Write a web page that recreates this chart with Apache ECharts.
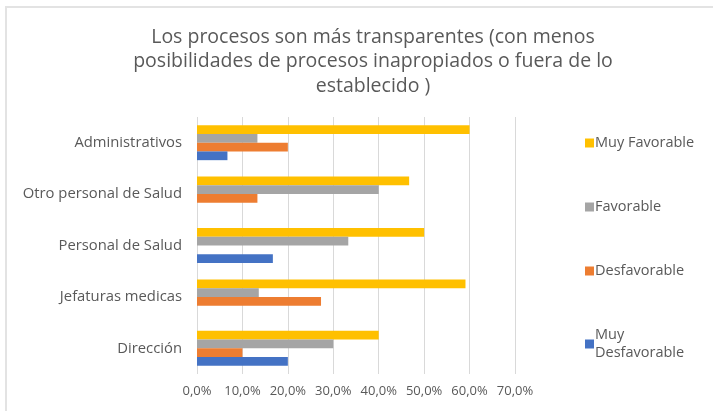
<!DOCTYPE html>
<html><head><meta charset="utf-8">
<script src="https://cdn.jsdelivr.net/npm/echarts@6/dist/echarts.min.js"></script>
<style>html,body{margin:0;padding:0;background:#fff}#c{width:713px;height:411px}</style>
</head><body><div id="c"></div>
<script>
const categories = ['Dirección', 'Jefaturas medicas', 'Personal de Salud', 'Otro personal de Salud', 'Administrativos'];
const muyFavorable = [40.0, 59.1, 50.0, 46.7, 60.0];
const favorable = [30.0, 13.6, 33.3, 40.0, 13.3];
const desfavorable = [10.0, 27.3, 0, 13.3, 20.0];
const muyDesfavorable = [20.0, 0, 16.7, 0, 6.7];
const xTicks = [0, 10, 20, 30, 40, 50, 60, 70];

const chart = echarts.init(document.getElementById('c'));
const font = 'Open Sans';
const fmt = v => v.toFixed(1).replace('.', ',') + '%';
chart.setOption({
  animation: false,
  textStyle: { fontFamily: font },
  graphic: [{ type: 'rect', shape: { x: 6, y: 7, width: 720, height: 420 }, style: { fill: 'none', stroke: '#e3e3e3', lineWidth: 2 } }],
  title: {
    text: 'Los procesos son más transparentes (con menos\nposibilidades de procesos inapropiados o fuera de lo\nestablecido )',
    left: 368, textAlign: 'center', top: 20,
    textStyle: { fontFamily: font, fontSize: 19.5, fontWeight: 'normal', color: '#595959', lineHeight: 24.5 }
  },
  legend: {
    orient: 'vertical', left: 580, top: 129, itemWidth: 9, itemHeight: 9, itemGap: 46,
    icon: 'rect',
    data: ['Muy Favorable', 'Favorable', 'Desfavorable', 'Muy\nDesfavorable'],
    textStyle: { fontFamily: font, fontSize: 14.5, color: '#595959', padding: [0, 0, 0, -4], lineHeight: 18 }
  },
  grid: { left: 197, top: 117, width: 318, height: 257, containLabel: false },
  xAxis: {
    type: 'value', min: 0, max: 70, interval: 10,
    axisLine: { show: false }, axisTick: { show: false },
    splitLine: { lineStyle: { color: '#d9d9d9', width: 1 } },
    axisLabel: { formatter: v => fmt(v), color: '#595959', fontSize: 13, fontFamily: font, margin: 11 }
  },
  yAxis: {
    type: 'category', data: categories,
    axisLine: { show: false }, axisTick: { show: false },
    axisLabel: { color: '#595959', fontSize: 14.8, fontFamily: font, margin: 15 }
  },
  series: [
    { name: 'Muy Favorable', type: 'bar', data: muyFavorable, itemStyle: { color: '#FFC000' }, barGap: '0%', barCategoryGap: '32%' },
    { name: 'Favorable', type: 'bar', data: favorable, itemStyle: { color: '#A5A5A5' }, barGap: '0%', barCategoryGap: '32%' },
    { name: 'Desfavorable', type: 'bar', data: desfavorable, itemStyle: { color: '#ED7D31' }, barGap: '0%', barCategoryGap: '32%' },
    { name: 'Muy\nDesfavorable', type: 'bar', data: muyDesfavorable, itemStyle: { color: '#4472C4' }, barGap: '0%', barCategoryGap: '32%' }
  ]
});
</script></body></html>
